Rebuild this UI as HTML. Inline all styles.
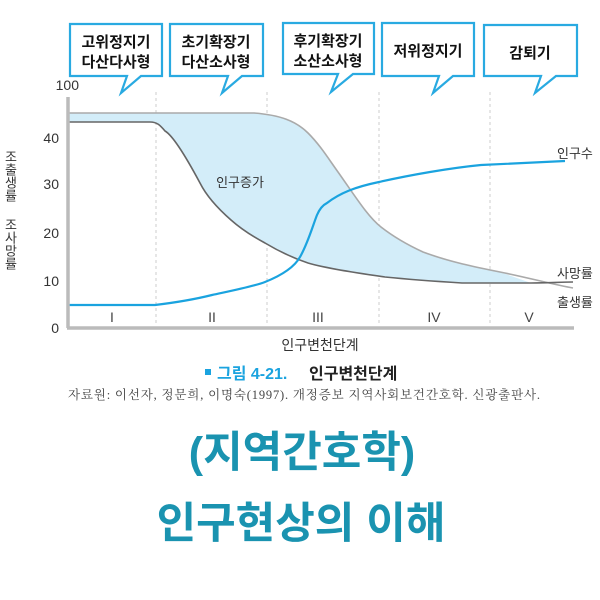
<!DOCTYPE html>
<html><head><meta charset="utf-8"><style>
body{margin:0;background:#fff;width:600px;height:600px;overflow:hidden}
svg{position:absolute;left:0;top:0}
.k{font-family:"Liberation Sans","Noto Sans CJK KR",sans-serif}
</style></head><body>
<svg width="600" height="600" class="k">
<g fill="#fff" stroke="#29aae1" stroke-width="2.2">
<path d="M70,24 H162 V76 H141 L121,93 L127,76 H70 Z"/>
<path d="M170,24 H263 V76 H242 L222,93 L228,76 H170 Z"/>
<path d="M283,23 H374 V74 H353 L331,92 L338,74 H283 Z"/>
<path d="M382,23 H474 V76 H453 L433,93 L439,76 H382 Z"/>
<path d="M484,25 H577 V76 H556 L535,93 L541,76 H484 Z"/>
</g>
<g font-weight="bold" font-size="15" fill="#111" text-anchor="middle">
<text x="116" y="47">고위정지기</text><text x="116" y="67">다산다사형</text>
<text x="216" y="47">초기확장기</text><text x="216" y="67">다산소사형</text>
<text x="328" y="46">후기확장기</text><text x="328" y="66">소산소사형</text>
<text x="428" y="56">저위정지기</text>
<text x="530" y="58">감퇴기</text>
</g>
<g stroke="#ccc" stroke-dasharray="3,3" stroke-width="1">
<line x1="156" y1="92" x2="156" y2="326"/><line x1="267" y1="92" x2="267" y2="326"/>
<line x1="379" y1="92" x2="379" y2="326"/><line x1="490" y1="92" x2="490" y2="326"/>
</g>
<path d="M68,113 L254,113 C280,115 296,121 308,133 C320,145 328,158 338,172 C355,196 368,217 381,227 C395,238 410,246 423,252 C450,262 475,267 500,272 L531,283 C500,283 480,283 462,283 C430,281 405,279 385,277 C350,272 325,268 308,263 C290,257 275,249 265,243 C250,235 240,228 231,220 C215,206 205,193 200,183 C185,155 172,135 165,131 C160,125 157,122 150,122 L68,122 Z" fill="#d3edf9"/>
<path d="M68,113 L254,113 C280,115 296,121 308,133 C320,145 328,158 338,172 C355,196 368,217 381,227 C395,238 410,246 423,252 C450,262 475,267 500,272 C530,278 555,285 573,288" fill="none" stroke="#aaa" stroke-width="1.6"/>
<path d="M68,122 L150,122 C157,122 160,125 165,131 C172,135 185,155 200,183 C205,193 215,206 231,220 C240,228 250,235 265,243 C275,249 290,257 308,263 C325,268 350,272 385,277 C405,279 430,281 462,283 C480,283 500,283 531,283 C550,283 560,282 573,282" fill="none" stroke="#666" stroke-width="1.6"/>
<path d="M68,305 L155,305 C180,302 200,298 212,295 C235,290 255,286 265,282 C285,274 295,266 300,257 C308,243 313,225 317,215 C320,208 323,205 327,203 C340,193 355,187 379,182 C410,175 450,168 481,165 C520,163 545,162 565,161" fill="none" stroke="#1aa3df" stroke-width="2.2"/>
<line x1="68" y1="97" x2="68" y2="328" stroke="#bbb" stroke-width="3.5"/>
<line x1="67" y1="328" x2="574" y2="328" stroke="#bbb" stroke-width="3.5"/>
<g font-size="14" fill="#333" text-anchor="end">
<text x="79" y="90">100</text><text x="59" y="143">40</text><text x="59" y="189">30</text>
<text x="59" y="238">20</text><text x="59" y="286">10</text><text x="59" y="333">0</text>
</g>
<g font-size="14" fill="#444" text-anchor="middle">
<text x="112" y="322">I</text><text x="212" y="322">II</text><text x="318" y="322">III</text>
<text x="434" y="322">IV</text><text x="529" y="322">V</text>
</g>
<g font-size="13" fill="#333">
<text x="10" y="150" writing-mode="tb">조출생률</text>
<text x="10" y="218" writing-mode="tb">조사망률</text>
<text x="557" y="158">인구수</text>
<text x="557" y="278">사망률</text>
<text x="557" y="307">출생률</text>
<text x="240" y="187" text-anchor="middle">인구증가</text>
<text x="320" y="350" text-anchor="middle" font-size="14">인구변천단계</text>
</g>
<rect x="205" y="369" width="6" height="6" fill="#1aa3df"/>
<text x="217" y="379" font-size="16" font-weight="bold" fill="#1aa3df">그림 4-21.</text>
<text x="309" y="379" font-size="16" font-weight="bold" fill="#222">인구변천단계</text>
<text x="304" y="399" font-size="12.5" fill="#444" text-anchor="middle" textLength="472" font-family="Liberation Serif,'Noto Serif CJK SC',serif">자료원: 이선자, 정문희, 이명숙(1997). 개정증보 지역사회보건간호학. 신광출판사.</text>
<g font-size="43" font-weight="bold" fill="#1a93b0" text-anchor="middle">
<text x="302" y="467">(지역간호학)</text>
<text x="301" y="538">인구현상의 이해</text>
</g>
</svg>
</body></html>
